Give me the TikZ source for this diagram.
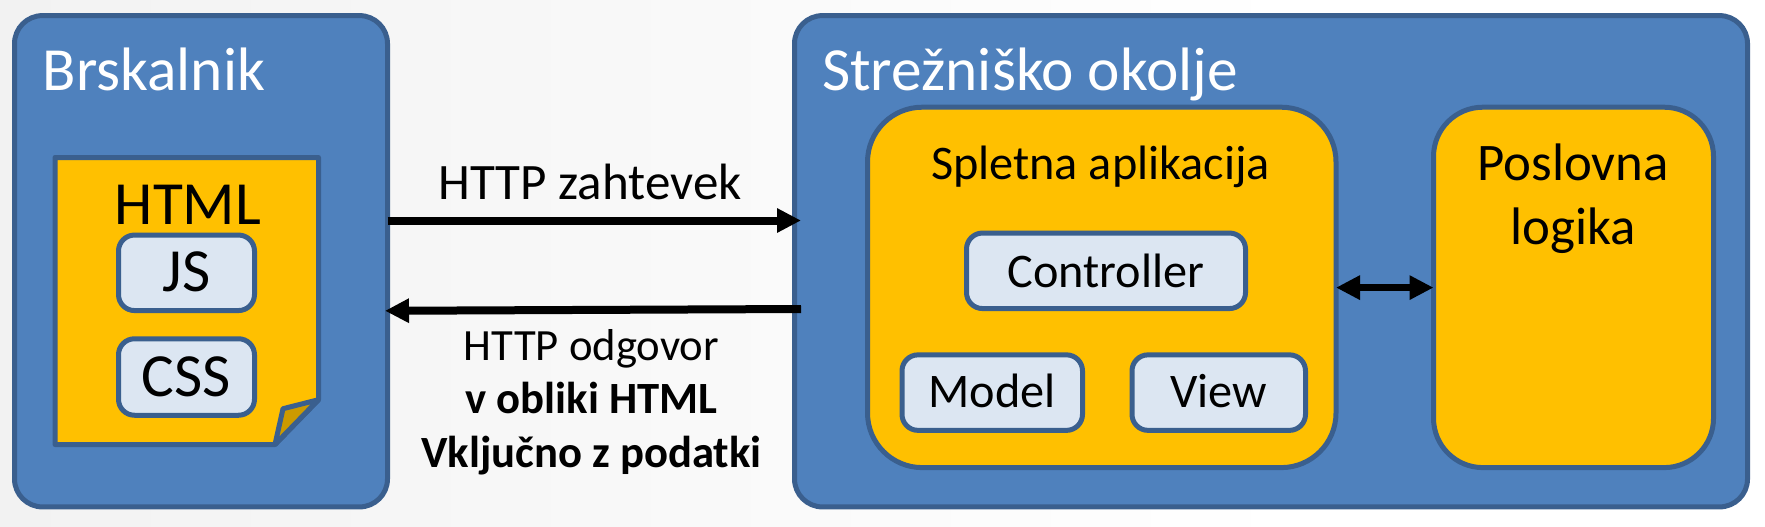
\documentclass[tikz,border=0pt]{standalone}
\usepackage{fontspec}
\setmainfont{Carlito}
\usetikzlibrary{arrows.meta}
\definecolor{boxblue}{HTML}{4F81BD}
\definecolor{edgeblue}{HTML}{3A5F8E}
\definecolor{amberfill}{HTML}{FFC000}
\definecolor{paleblue}{HTML}{DCE6F2}
\definecolor{folddark}{HTML}{CC9A00}
\definecolor{bgleft}{HTML}{F2F2F2}
\newcommand{\fsz}[2]{\fontsize{#1}{#2}\selectfont}
\tikzset{
  x=0.75pt, y=-0.75pt,
  panel/.style={draw=edgeblue, line width=3.75pt, fill=boxblue, rounded corners=21pt, inner sep=0pt, outer sep=0pt},
  amberbox/.style={draw=edgeblue, line width=3.75pt, fill=amberfill, rounded corners=41pt, inner sep=0pt, outer sep=0pt},
  chip/.style={draw=edgeblue, line width=3.75pt, fill=paleblue, rounded corners=12pt, inner sep=0pt, outer sep=0pt, text depth=0pt},
  title/.style={text=white, anchor=base, inner sep=0pt, font=\fsz{46}{54}},
  big/.style={text=black, anchor=base, inner sep=0pt, font=\fsz{46}{54}},
  link/.style={line width=6pt, draw=black, -{Triangle[length=18pt,width=17.25pt]}},
  biglink/.style={line width=5.8pt, draw=black, {Triangle[length=18pt,width=17.25pt]}-{Triangle[length=18pt,width=17.25pt]}}
}
\begin{document}
\begin{tikzpicture}
\useasboundingbox (0,0) rectangle (1765,526);
\fill[white] (0,0) rectangle (1765,526);
\shade[left color=bgleft, right color=white, draw=none] (0,0) rectangle (1300,526);

% browser panel
\node[panel, minimum width=373*0.75pt, minimum height=491.3*0.75pt] (brow) at (201,261.25) {};
\node[title] (browt) at (154,90.6) {Brskalnik};

% sticky note
\draw[edgeblue, line width=3.75pt, fill=amberfill, line join=round]
  (55,157.5) -- (318.5,157.5) -- (318.5,399.7) -- (275,444.5) -- (55,444.5) -- cycle;
\draw[edgeblue, line width=3.75pt, fill=folddark, line join=round]
  (318.5,399.7) -- (283,408.7) -- (275,444.5) -- cycle;
\node[big] (html) at (188,224.5) {HTML};
\node[chip, font=\fsz{46}{54}, text height=38.3*0.75pt, minimum width=136*0.75pt, minimum height=75.5*0.75pt] (js) at (186.5,272.8) {JS};
\node[chip, font=\fsz{46}{54}, text height=39.2*0.75pt, minimum width=136*0.75pt, minimum height=76.5*0.75pt] (css) at (186.5,377) {CSS};

% server panel
\node[panel, minimum width=953*0.75pt, minimum height=491.3*0.75pt] (srv) at (1271,261.25) {};
\node[title] (srvt) at (1030,90.1) {Strežniško okolje};

% web application
\node[amberbox, minimum width=468.5*0.75pt, minimum height=360.4*0.75pt] (app) at (1101.75,287.4) {};
\node[anchor=base, inner sep=0pt, font=\fsz{36.2}{42}] (appt) at (1100.6,179.2) {Spletna aplikacija};
\node[chip, font=\fsz{36.2}{42}, text height=32.4*0.75pt, minimum width=279*0.75pt, minimum height=75.5*0.75pt] (ctrl) at (1106,270.8) {Controller};
\node[chip, font=\fsz{36.2}{42}, text height=30.2*0.75pt, minimum width=180.5*0.75pt, minimum height=75.5*0.75pt] (model) at (992.25,392.6) {Model};
\node[chip, font=\fsz{36.2}{42}, text height=30.2*0.75pt, minimum width=173.5*0.75pt, minimum height=75.5*0.75pt] (view) at (1218.75,392.6) {View};

% business logic
\node[amberbox, rounded corners=37pt, minimum width=280*0.75pt, minimum height=360.4*0.75pt] (biz) at (1573.5,287.4) {};
\node[anchor=base, inner sep=0pt, align=center, font=\fsz{39.6}{47.5}] (bizt) at (1573,244.1) {Poslovna\\logika};

% connectors
\draw[link] (brow.east |- 0,220.5) -- ([xshift=6.5*0.75pt]srv.west |- 0,220.5);
\draw[link] ([xshift=6.5*0.75pt]srv.west |- 0,309) -- ([xshift=-2.5*0.75pt]brow.east |- 0,310.8);
\draw[biglink] (app.east |- 0,287.6) -- (biz.west |- 0,287.6);

% connector labels
\node[anchor=base, inner sep=0pt, font=\fsz{38.3}{44}] (req) at (590,199.3) {HTTP zahtevek};
\node[anchor=base, inner sep=0pt, align=center, font=\fsz{33.5}{40}] (resp) at (591.5,467) {HTTP odgovor\\\textbf{v obliki HTML}\\\textbf{Vključno z podatki}};
\end{tikzpicture}
\end{document}
